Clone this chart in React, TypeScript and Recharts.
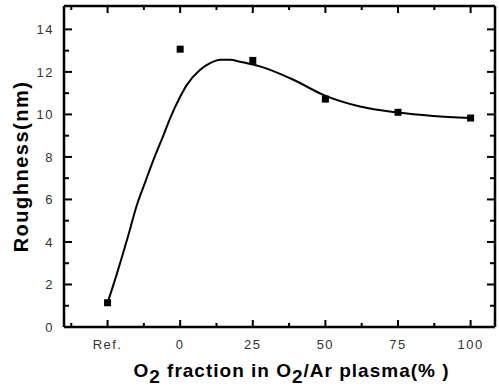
import React from 'react';
import { ComposedChart, Line, Scatter, XAxis, YAxis, Label, ReferenceLine } from 'recharts';

// 측정값 (Ref. 는 x = -25 위치에 놓음)
const categories = ['Ref.', '0', '25', '50', '75', '100'];
const categoryX = [-25, 0, 25, 50, 75, 100];
const roughness = [1.14, 13.07, 12.54, 10.72, 10.1, 9.83];

// 피팅 곡선 (그림에서 읽은 점)
const fitX = [-25, -21.8, -18.3, -14.9, -12, -9.2, -5.7, -3.4, 0, 2.3, 6.9, 10.3, 13.8, 17.3, 20.6, 27.5, 39, 49.3, 61.9, 74.9, 87.1, 99.8];
const fitY = [1.14, 2.5, 4.1, 5.74, 6.83, 7.86, 9.04, 9.84, 10.83, 11.39, 12.1, 12.41, 12.57, 12.57, 12.48, 12.26, 11.63, 10.92, 10.37, 10.09, 9.93, 9.83];

// 눈금
const xTicks = [-37.5, -25, -12.5, 0, 12.5, 25, 37.5, 50, 62.5, 75, 87.5, 100];
const yTicks = [0, 1, 2, 3, 4, 5, 6, 7, 8, 9, 10, 11, 12, 13, 14];
const X_DOMAIN = [-40, 108.4];
const Y_DOMAIN = [0, 15.1];

const measured = categoryX.map((x, i) => ({ x, y: roughness[i] }));
const fitted = fitX.map((x, i) => ({ x, y: fitY[i] }));

// 차트 크기 / 여백
const W = 499;
const H = 389;
const MARGIN = { top: 6, right: 4, bottom: 0, left: 0 };
const PLOT_TOP = MARGIN.top;
const PLOT_RIGHT = W - MARGIN.right;

const FONT = 'Arial, "Liberation Sans", sans-serif';
const AXIS = { stroke: '#000', strokeWidth: 2.5 };
const TICK_COLOR = '#000';

const isMajorX = (v: number) => categoryX.includes(v);
const xLabel = (v: number) => categories[categoryX.indexOf(v)];

// 아래쪽 눈금 + 위쪽 테두리 눈금 (안쪽 방향)
function BottomTick({ x, y, payload }: any) {
  const v = payload.value;
  const major = isMajorX(v);
  const len = major ? 7 : 4;
  return (
    <g>
      <rect x={x - 1} y={y - len} width={2} height={len} fill={TICK_COLOR} />
      <rect x={x - 1} y={PLOT_TOP} width={2} height={len} fill={TICK_COLOR} />
      {major && (
        <text x={x} y={y + 22} textAnchor="middle" fontFamily={FONT} fontSize={13} letterSpacing={1.5} fill="#333">
          {xLabel(v)}
        </text>
      )}
    </g>
  );
}

// 왼쪽 눈금 + 오른쪽 테두리 눈금
function LeftTick({ x, y, payload }: any) {
  const v = payload.value;
  const major = v % 2 === 0;
  const len = major ? 8 : 5;
  return (
    <g>
      <rect x={x} y={y - 1} width={len} height={2} fill={TICK_COLOR} />
      <rect x={PLOT_RIGHT - len} y={y - 1} width={len} height={2} fill={TICK_COLOR} />
      {major && (
        <text x={x - 10} y={y + 5} textAnchor="end" fontFamily={FONT} fontSize={13} letterSpacing={1.5} fill="#333">
          {v}
        </text>
      )}
    </g>
  );
}

function XTitle({ viewBox }: any) {
  const cx = viewBox.x + viewBox.width / 2 + 12;
  const by = viewBox.y + 50;
  return (
    <text x={cx} y={by} textAnchor="middle" fontFamily={FONT} fontSize={19} fontWeight="bold" letterSpacing={1} fill="#000">
      O<tspan dy={6}>2</tspan>
      <tspan dy={-6}> fraction in O</tspan>
      <tspan dy={6}>2</tspan>
      <tspan dy={-6}>/Ar plasma(% )</tspan>
    </text>
  );
}

function YTitle({ viewBox }: any) {
  const cy = viewBox.y + viewBox.height / 2;
  const bx = 28;
  return (
    <text
      x={bx}
      y={cy}
      transform={`rotate(-90, ${bx}, ${cy})`}
      textAnchor="middle"
      fontFamily={FONT}
      fontSize={20}
      fontWeight="bold"
      letterSpacing={1.5}
      fill="#000"
    >
      Roughness(nm)
    </text>
  );
}

const Square = (props: any) => (
  <rect x={props.cx - 3.5} y={props.cy - 3.5} width={7} height={7} fill="#000" />
);

export default function App() {
  return (
    <div style={{ position: 'absolute', left: 0, top: 0, background: '#fff' }}>
      <ComposedChart width={W} height={H} margin={MARGIN}>
        <XAxis
          xAxisId="bottom"
          dataKey="x"
          type="number"
          domain={X_DOMAIN}
          allowDataOverflow
          ticks={xTicks}
          interval={0}
          height={62}
          tickSize={0}
          tickMargin={0}
          tickLine={false}
          axisLine={AXIS}
          tick={<BottomTick />}
        >
          <Label content={<XTitle />} />
        </XAxis>
        <YAxis
          yAxisId="left"
          dataKey="y"
          type="number"
          domain={Y_DOMAIN}
          allowDataOverflow
          ticks={yTicks}
          interval={0}
          width={64}
          tickSize={0}
          tickMargin={0}
          tickLine={false}
          axisLine={AXIS}
          tick={<LeftTick />}
        >
          <Label content={<YTitle />} />
        </YAxis>
        {/* 위쪽 / 오른쪽 테두리 */}
        <ReferenceLine xAxisId="bottom" yAxisId="left" y={Y_DOMAIN[1]} stroke="#000" strokeWidth={2.5} />
        <ReferenceLine xAxisId="bottom" yAxisId="left" x={X_DOMAIN[1]} stroke="#000" strokeWidth={2.5} />
        <Line
          xAxisId="bottom"
          yAxisId="left"
          data={fitted}
          dataKey="y"
          type="monotone"
          stroke="#000"
          strokeWidth={2}
          dot={false}
          activeDot={false}
          isAnimationActive={false}
        />
        <Scatter
          xAxisId="bottom"
          yAxisId="left"
          data={measured}
          dataKey="y"
          fill="#000"
          shape={Square}
          isAnimationActive={false}
        />
      </ComposedChart>
    </div>
  );
}
